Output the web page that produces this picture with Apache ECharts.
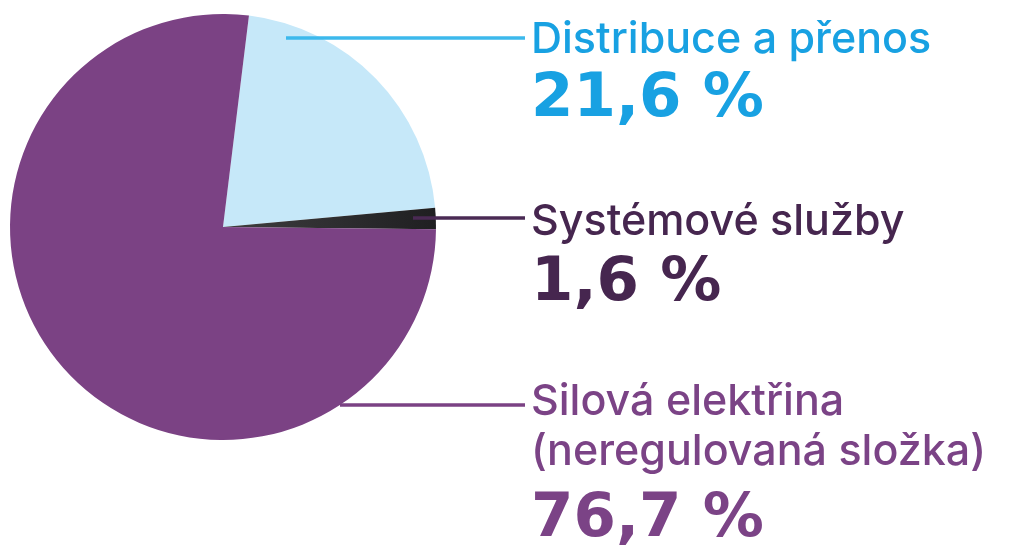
<!DOCTYPE html>
<html>
<head>
<meta charset="utf-8">
<script src="https://cdn.jsdelivr.net/npm/echarts@6/dist/echarts.min.js"></script>
<style>
  html, body { margin: 0; padding: 0; background: #fff; }
  #chart { width: 1021px; height: 547px; }
</style>
</head>
<body>
<div id="chart"></div>
<script>
// data
const names = ['Distribuce a přenos', 'Systémové služby', 'Silová elektřina\n(neregulovaná složka)'];
const values = [21.6, 1.6, 76.7];

// styling per slice
const sliceColors = ['#c6e8f9', '#2b2b2d', '#7b4284'];
const textColors = ['#18a1e2', '#46264f', '#7b4386'];
const lineColors = ['#3cb9ec', '#4a2a54', '#7b4284'];
const labelTops = [15, 197, 377];
const valueLineHeights = [70, 74, 86];
const lineStarts = [[286, 38], [413, 218], [340, 405]];
const labelX = 531;
const lineEndX = 525;

const chart = echarts.init(document.getElementById('chart'));

const pieBase = {
    type: 'pie',
    center: [223, 227],
    radius: [0, 213],
    startAngle: 83,
    clockwise: true,
    avoidLabelOverlap: false,
    emphasis: {disabled: true}
};

const option = {
    animation: false,
    series: [
        // the slices
        Object.assign({}, pieBase, {
            z: 1,
            label: {show: false},
            labelLine: {show: false},
            data: names.map((n, i) => ({
                name: n,
                value: values[i],
                itemStyle: i === 1 ? {
                    color: {
                        type: 'linear', x: 0, y: 0, x2: 1, y2: 0,
                        colorStops: [{offset: 0, color: '#3e3e40'}, {offset: 1, color: '#1f1f21'}]
                    }
                } : {color: sliceColors[i]}
            }))
        }),
        // labels and leader lines on top
        Object.assign({}, pieBase, {
            z: 3,
            silent: true,
            itemStyle: {color: 'rgba(0,0,0,0)'},
            data: names.map((n, i) => ({
                name: n,
                value: values[i],
                label: {
                    rich: {
                        n: {fontFamily: 'Inter', fontSize: 43, fontWeight: 500, lineHeight: 50, color: textColors[i]},
                        v: {fontFamily: 'DejaVu Sans', fontSize: 61, fontWeight: 'bold', lineHeight: valueLineHeights[i], color: textColors[i]}
                    }
                },
                labelLine: {lineStyle: {color: lineColors[i], width: 3.5}}
            })),
            label: {
                show: true,
                position: 'outside',
                formatter: p => p.name.split('\n').map(s => '{n|' + s + '}').join('\n')
                    + '\n{v|' + String(p.value).replace('.', ',') + ' %}'
            },
            labelLine: {show: true, length: 10, length2: 10, smooth: false},
            labelLayout: p => {
                const s = lineStarts[p.dataIndex];
                return {
                    x: labelX,
                    y: labelTops[p.dataIndex],
                    align: 'left',
                    verticalAlign: 'top',
                    labelLinePoints: [[s[0], s[1]], [s[0], s[1]], [lineEndX, s[1]]]
                };
            }
        })
    ]
};

chart.setOption(option);
</script>
</body>
</html>
